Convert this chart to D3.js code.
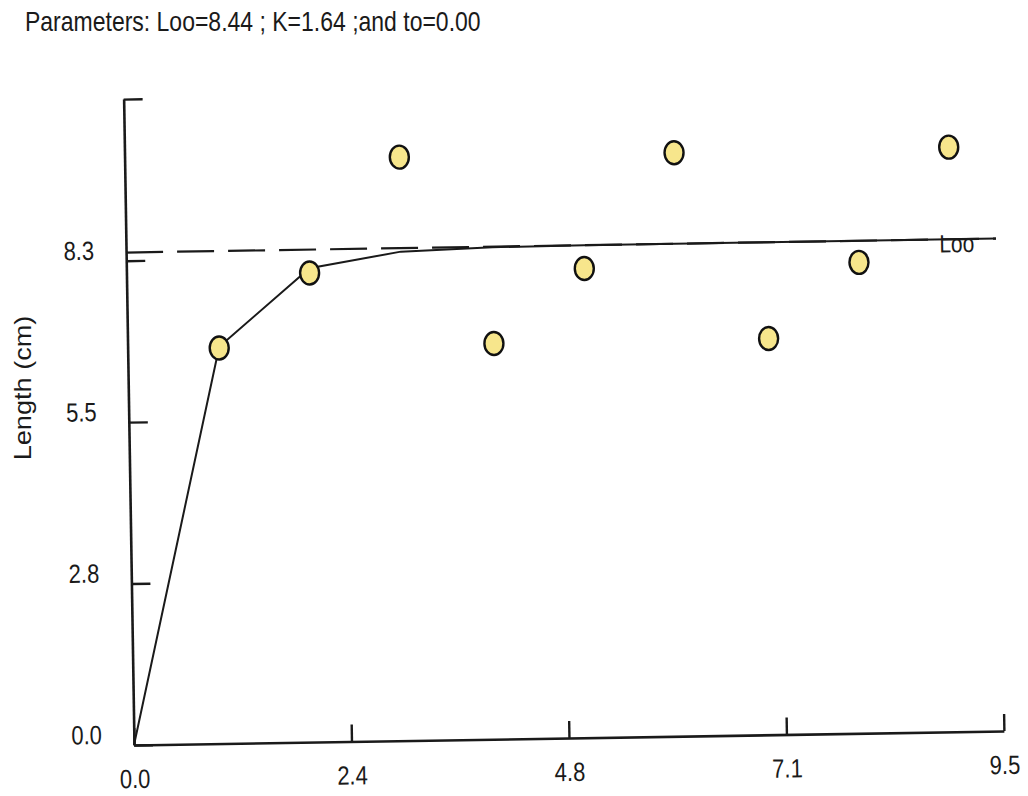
<!DOCTYPE html>
<html>
<head>
<meta charset="utf-8">
<script src="https://cdn.jsdelivr.net/npm/d3@7"></script>
<style>
  html, body { margin: 0; padding: 0; background: #fff; }
  svg { display: block; font-family: "Liberation Sans", Arial, sans-serif; }
</style>
</head>
<body>
<svg id="chart" width="1028" height="796"></svg>
<script>
// ---- data ----
const ages = [1, 2, 3, 4, 5, 6, 7, 8, 9];
const lengths = [6.78, 8.04, 10.0, 6.78, 8.04, 10.0, 6.79, 8.07, 10.02];
const curveAges = [0, 1, 2, 3, 4, 5, 6, 7, 8, 9, 9.5];
const curveLengths = [0, 6.80, 8.12, 8.38, 8.43, 8.44, 8.44, 8.44, 8.44, 8.44, 8.44];
const lInf = 8.44;
const xTickValues = [0, 2.375, 4.75, 7.125, 9.5];
const xTickLabels = ["0.0", "2.4", "4.8", "7.1", "9.5"];
const yTickValues = [0, 2.767, 5.533, 8.3, 11.07];
const yTickLabels = ["0.0", "2.8", "5.5", "8.3", ""];
const xMax = 9.5, yMax = 11.07;
const titleText = "Parameters: Loo=8.44 ; K=1.64 ;and to=0.00";
const yTitle = "Length (cm)";
const lInfLabel = "Loo";

// ---- drawing ----
const S = 1.2; // vertical stretch of the text, as in the scanned reference
const svg = d3.select("#chart");

svg.append("text")
  .attr("transform", `translate(25,31) scale(1,${S})`)
  .attr("font-size", 23).attr("fill", "#1a1a1a")
  .text(titleText);

svg.append("text")
  .attr("transform", `translate(31,388) rotate(-90) scale(1.18,1)`)
  .attr("text-anchor", "middle")
  .attr("font-size", 23).attr("fill", "#1a1a1a")
  .text(yTitle);

const g = svg.append("g").attr("transform", "translate(134,745) rotate(-0.92)");

const x = d3.scaleLinear().domain([0, xMax]).range([0, 870]);
const y = d3.scaleLinear().domain([0, yMax]).range([0, -646]);

// x axis
const xAxis = d3.axisBottom(x)
  .tickValues(xTickValues)
  .tickFormat((d, i) => xTickLabels[i])
  .tickSizeInner(-17).tickSizeOuter(0).tickPadding(0);
const gx = g.append("g").call(xAxis);
gx.select(".domain").attr("stroke", "#1a1a1a").attr("stroke-width", 2.6);
gx.selectAll(".tick line").attr("stroke", "#1a1a1a").attr("stroke-width", 2.4);
gx.selectAll(".tick text")
  .attr("y", null).attr("dy", null)
  .attr("transform", `translate(0,43) scale(1,${S})`)
  .attr("font-size", 22).attr("fill", "#1a1a1a")
  .attr("font-family", "Liberation Sans, Arial, sans-serif");

// y axis
const yAxis = d3.axisLeft(y)
  .tickValues(yTickValues)
  .tickFormat((d, i) => yTickLabels[i])
  .tickSizeInner(-19).tickSizeOuter(0).tickPadding(0);
const gy = g.append("g").call(yAxis);
gy.select(".domain").attr("stroke", "#1a1a1a").attr("stroke-width", 2.6);
gy.selectAll(".tick line").attr("stroke", "#1a1a1a").attr("stroke-width", 2.4);
gy.selectAll(".tick text")
  .attr("x", null).attr("dy", null)
  .attr("transform", `translate(-32,-2) scale(1,${S})`)
  .attr("font-size", 22).attr("fill", "#1a1a1a")
  .attr("font-family", "Liberation Sans, Arial, sans-serif");

// Loo dashed line
g.append("line")
  .attr("x1", x(0)).attr("x2", x(xMax))
  .attr("y1", y(lInf)).attr("y2", y(lInf))
  .attr("stroke", "#1a1a1a").attr("stroke-width", 2.2)
  .attr("stroke-dasharray", "37,14");

// growth curve
const line = d3.line().x((d, i) => x(curveAges[i])).y(d => y(d));
g.append("path")
  .datum(curveLengths)
  .attr("d", line)
  .attr("fill", "none")
  .attr("stroke", "#1a1a1a").attr("stroke-width", 2);

// Loo label
g.append("text")
  .attr("transform", `translate(${x(8.88)},${y(lInf) + 13}) scale(1,${S})`)
  .attr("font-size", 21).attr("fill", "#1a1a1a")
  .text(lInfLabel);

// observed points
g.selectAll("ellipse.pt")
  .data(ages)
  .join("ellipse")
  .attr("class", "pt")
  .attr("cx", d => x(d))
  .attr("cy", (d, i) => y(lengths[i]))
  .attr("rx", 9.5).attr("ry", 11.5)
  .attr("fill", "#f7e68c")
  .attr("stroke", "#111").attr("stroke-width", 2.4);
</script>
</body>
</html>
